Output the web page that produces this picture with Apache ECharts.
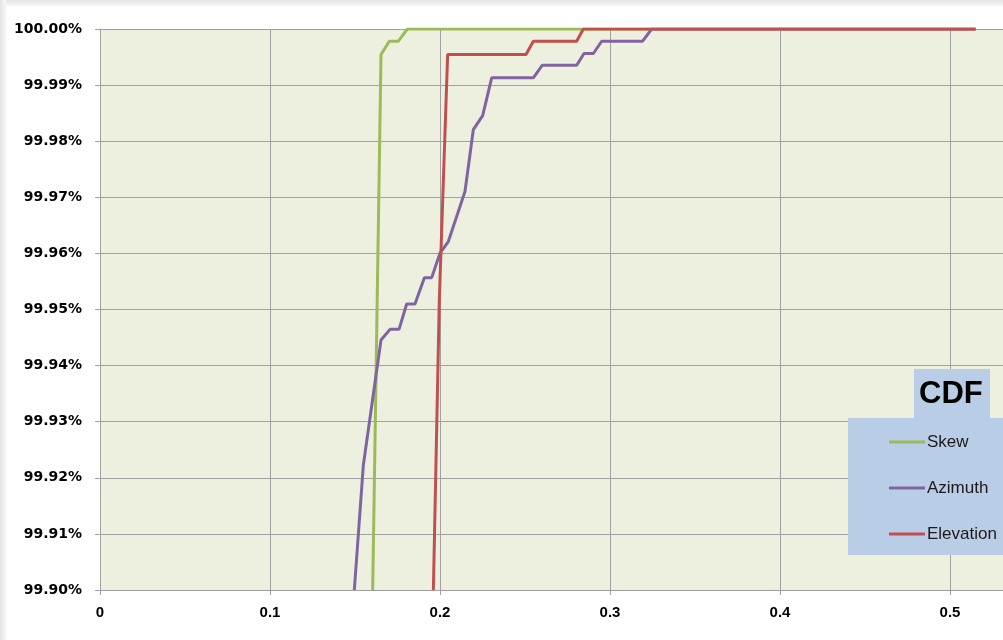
<!DOCTYPE html>
<html>
<head>
<meta charset="utf-8">
<script src="https://cdn.jsdelivr.net/npm/echarts@6/dist/echarts.min.js"></script>
<style>
  html, body { margin: 0; padding: 0; background: #fff; }
  #main { width: 1003px; height: 640px; }
</style>
</head>
<body>
<div id="main"></div>
<script>
// CDF curves, x = error value, y = cumulative percent
const skewX = [0.1604, 0.1653, 0.1702, 0.1755, 0.1808, 0.515];
const skewY = [99.900, 99.99545, 99.99782, 99.99782, 100.000, 100.000];

const azimuthX = [0.1496, 0.1549, 0.1653, 0.1706, 0.1759, 0.1804, 0.1853, 0.1908, 0.1951,
  0.2000, 0.2049, 0.2147, 0.2196, 0.2251, 0.2304, 0.2549, 0.2602, 0.2804, 0.2847,
  0.2902, 0.2951, 0.3192, 0.3245, 0.515];
const azimuthY = [99.900, 99.92223, 99.94455, 99.94646, 99.94646, 99.95098, 99.95098, 99.95568, 99.95568,
  99.96004, 99.96211, 99.97104, 99.98205, 99.98455, 99.99129, 99.99129, 99.99354, 99.99354, 99.99563,
  99.99563, 99.99782, 99.99782, 100.000, 100.000];

const elevationX = [0.1961, 0.1996, 0.2045, 0.2506, 0.2549, 0.2804, 0.2843, 0.5151];
const elevationY = [99.900, 99.95170, 99.99545, 99.99545, 99.99782, 99.99782, 100.000, 100.000];

const seriesNames = ['Skew', 'Azimuth', 'Elevation'];
const seriesColors = ['#9BBB59', '#8064A2', '#C0504D'];

function pairs(xs, ys) {
  let out = [];
  for (let i = 0; i < xs.length; i++) out.push([xs[i], ys[i]]);
  return out;
}
const allData = [pairs(skewX, skewY), pairs(azimuthX, azimuthY), pairs(elevationX, elevationY)];

const chart = echarts.init(document.getElementById('main'));

const option = {
  animation: false,
  backgroundColor: '#fff',
  grid: {
    left: 100, top: 29, width: 1020, height: 561,
    outerBoundsMode: 'none', containLabel: false,
    show: true, backgroundColor: '#EEF0DF', borderWidth: 0
  },
  xAxis: {
    type: 'value', min: 0, max: 0.6, interval: 0.1,
    axisLine: { show: true, lineStyle: { color: '#a0a0a0', width: 1 } },
    axisTick: { show: true, length: 5, lineStyle: { color: '#a0a0a0' } },
    splitLine: { show: true, lineStyle: { color: '#a0a0a0', width: 1 } },
    axisLabel: {
      margin: 15, color: '#000',
      fontFamily: '"Liberation Sans Narrow", "Liberation Sans", sans-serif',
      fontWeight: 'bold', fontSize: 15,
      formatter: v => String(Math.round(v * 10) / 10)
    }
  },
  yAxis: {
    type: 'value', min: 99.9, max: 100, interval: 0.01,
    axisLine: { show: true, lineStyle: { color: '#a0a0a0', width: 1 } },
    axisTick: { show: true, length: 5, lineStyle: { color: '#a0a0a0' } },
    splitLine: { show: true, lineStyle: { color: '#a0a0a0', width: 1 } },
    axisLabel: {
      margin: 18, color: '#000',
      fontFamily: '"DejaVu Sans", sans-serif', fontWeight: 'bold', fontSize: 14,
      formatter: v => v.toFixed(2) + '%'
    }
  },
  legend: {
    orient: 'vertical', left: 889, top: 433,
    icon: 'rect', itemWidth: 36, itemHeight: 3, itemGap: 28,
    padding: 0,
    textStyle: {
      color: '#1a1a1a', fontSize: 17, lineHeight: 18,
      fontFamily: '"Liberation Sans", sans-serif', padding: [0, 0, 0, -3]
    },
    data: seriesNames
  },
  graphic: [
    // light frame shadow on the top and left
    { type: 'rect', left: 0, top: 0, z: 100, shape: { width: 1003, height: 6 },
      style: { fill: new echarts.graphic.LinearGradient(0, 0, 0, 1, [
        { offset: 0, color: '#e4e4e4' }, { offset: 1, color: '#f7f7f7' }]) } },
    { type: 'rect', left: 0, top: 0, z: 100, shape: { width: 6, height: 640 },
      style: { fill: new echarts.graphic.LinearGradient(0, 0, 1, 0, [
        { offset: 0, color: '#e4e4e4' }, { offset: 1, color: '#f7f7f7' }]) } },
    // legend boxes
    { type: 'rect', left: 848, top: 418, z: 1, shape: { width: 170, height: 137 },
      style: { fill: '#BACDE6' } },
    { type: 'rect', left: 914, top: 369, z: 1, shape: { width: 76, height: 50 },
      style: { fill: '#BACDE6' } },
    { type: 'text', left: 919, top: 379, z: 2,
      style: { text: 'CDF', fill: '#000', font: 'bold 31px "Liberation Sans", sans-serif' } }
  ],
  series: seriesNames.map((name, i) => ({
    name: name,
    type: 'line',
    data: allData[i],
    showSymbol: false,
    clip: true,
    color: seriesColors[i],
    lineStyle: { width: 3, color: seriesColors[i] },
    z: 2 + i
  }))
};

chart.setOption(option);
</script>
</body>
</html>
